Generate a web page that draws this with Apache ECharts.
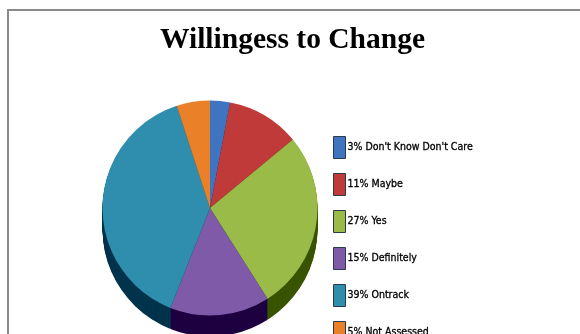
<!DOCTYPE html>
<html><head><meta charset="utf-8">
<style>html,body{margin:0;padding:0;background:#fff}#c{width:580px;height:334px}</style>
<script src="https://cdn.jsdelivr.net/npm/echarts@6/dist/echarts.min.js"></script>
</head><body><div id="c"></div>
<script>
const categories = ["3% Don't Know Don't Care","11% Maybe","27% Yes","15% Definitely","39% Ontrack","5% Not Assessed"];
const values = [3,11,27,15,39,5];
const topColors = ['#3f74c0','#c03a3a','#9abb48','#7f5aa8','#2f8ead','#ea8128'];
const sideColors = ['#0f2a5c','#5c0f0f','#385400','#1e0040','#02334c','#7a3800'];
const depth = 21;
const pieData = colors => categories.map((name,i)=>({name,value:values[i],itemStyle:{color:colors[i]}}));
const base = {type:'pie',radius:[0,107.5],startAngle:90,clockwise:true,silent:true,animation:false,label:{show:false},labelLine:{show:false}};
const series = [];
series.push(Object.assign({},base,{center:[210,208],z:10,data:pieData(topColors)}));
for(let d=1;d<=depth;d++){series.push(Object.assign({},base,{center:[210,208+d],z:9-d/100,data:pieData(sideColors)}));}
const chart = echarts.init(document.getElementById('c'),null,{renderer:'canvas'});
chart.setOption({
 animation:false,
 backgroundColor:'#fff',
 title:{text:'Willingess to Change',left:292.5,top:25,padding:0,textAlign:'center',textStyle:{fontFamily:'Liberation Serif',fontWeight:'bold',fontSize:29.5,color:'#000'}},
 legend:{orient:'vertical',left:333,top:136,height:300,padding:0,itemWidth:12,itemHeight:22,itemGap:14,selectedMode:false,icon:'rect',
  data:categories.map((name,i)=>({name,itemStyle:{color:topColors[i],borderColor:'#2b3a4a',borderWidth:1}})),
  textStyle:{fontFamily:"'DejaVu Sans Condensed','Liberation Serif'",fontSize:10.5,fontWeight:'normal',color:'#000',textBorderColor:'#000',textBorderWidth:0.3,padding:[0,0,0,-3]}},
 graphic:[{type:'polyline',silent:true,shape:{points:[[8,334],[8,10],[580,10]]},style:{stroke:'#8a8a8a',fill:null,lineWidth:2}}],
 series
});
</script></body></html>
